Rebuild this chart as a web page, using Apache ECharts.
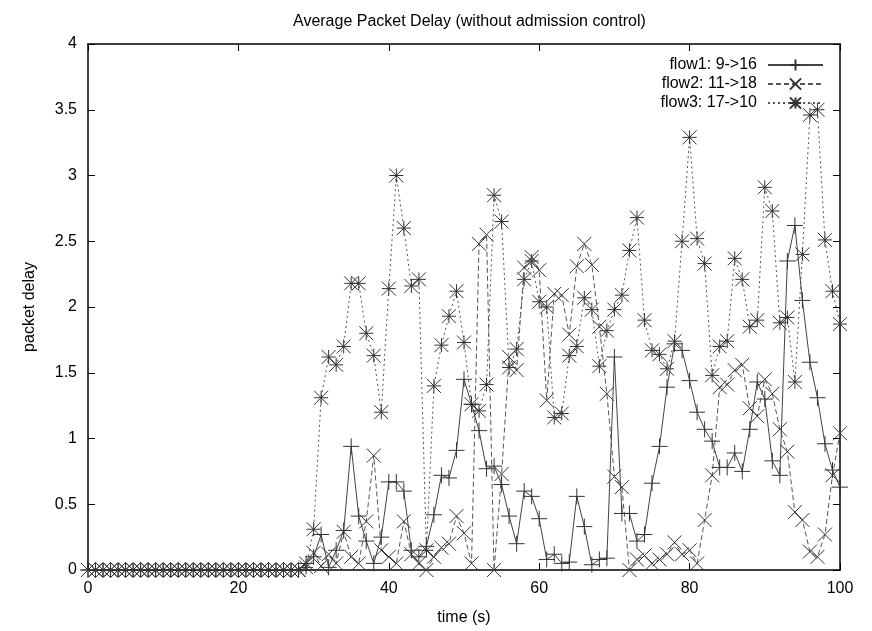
<!DOCTYPE html>
<html>
<head>
<meta charset="utf-8">
<script src="https://cdn.jsdelivr.net/npm/echarts@6/dist/echarts.min.js"></script>
<style>
html,body{margin:0;padding:0;background:#fff;}
#chart{width:872px;height:631px;}
</style>
</head>
<body>
<div id="chart"></div>
<script>
// time in seconds
const times = [0,1,2,3,4,5,6,7,8,9,10,11,12,13,14,15,16,17,18,19,20,21,22,23,24,25,26,27,28,29,30,31,32,33,34,35,36,37,38,39,40,41,42,43,44,45,46,47,48,49,50,51,52,53,54,55,56,57,58,59,60,61,62,63,64,65,66,67,68,69,70,71,72,73,74,75,76,77,78,79,80,81,82,83,84,85,86,87,88,89,90,91,92,93,94,95,96,97,98,99,100];

const flow1 = [0,0,0,0,0,0,0,0,0,0,0,0,0,0,0,0,0,0,0,0,0,0,0,0,0,0,0,0,0,
  0.05,0.10,0.27,0.02,0.15,0.30,0.94,0.41,0.22,0.05,0.25,
  0.67,0.67,0.60,0.15,0.10,0.18,0.42,0.72,0.70,0.91,
  1.45,1.26,1.06,0.77,0.79,0.65,0.41,0.20,0.60,0.56,
  0.39,0.08,0.12,0.05,0.06,0.56,0.33,0.04,0.08,0.09,
  1.62,0.43,0.43,0.22,0.27,0.66,0.94,1.39,1.72,1.67,
  1.44,1.20,1.07,0.98,0.78,0.78,0.89,0.75,1.07,1.43,
  1.30,0.83,0.72,2.35,2.62,2.05,1.58,1.31,0.96,0.76,0.63];

const flow2 = [0,0,0,0,0,0,0,0,0,0,0,0,0,0,0,0,0,0,0,0,0,0,0,0,0,0,0,0,0,
  0.05,0.13,0.03,0.12,0.05,0.29,0.10,0.05,0.37,0.87,0.15,
  0.10,0.05,0.37,0.12,0.05,0.00,0.10,0.17,0.20,0.41,
  0.28,0.05,2.48,2.55,0.00,0.73,1.62,1.52,2.30,2.38,
  2.28,1.29,2.10,2.09,1.79,2.31,2.48,2.32,1.85,1.34,
  0.71,0.63,0.00,0.08,0.11,0.05,0.08,0.12,0.21,0.12,
  0.15,0.05,0.38,0.72,1.39,1.41,1.52,1.56,1.23,1.17,
  1.45,1.34,1.07,0.90,0.44,0.38,0.14,0.10,0.27,0.72,1.04];

const flow3 = [0,0,0,0,0,0,0,0,0,0,0,0,0,0,0,0,0,0,0,0,0,0,0,0,0,0,0,0,0,
  0.02,0.31,1.31,1.62,1.56,1.70,2.18,2.18,1.80,1.63,1.20,
  2.14,3.00,2.60,2.16,2.21,0.15,1.40,1.71,1.93,2.12,
  1.73,1.26,1.21,1.41,2.85,2.65,1.54,1.68,2.21,2.35,
  2.04,2.00,1.16,1.19,1.63,1.70,2.07,1.98,1.55,1.82,
  1.98,2.09,2.43,2.68,1.90,1.67,1.64,1.53,1.74,2.50,
  3.29,2.52,2.33,1.48,1.70,1.74,2.37,2.21,1.85,1.90,
  2.91,2.73,1.88,1.92,1.43,2.40,3.46,3.50,2.51,2.12,1.87];

const seriesNames = ['flow1: 9->16', 'flow2: 11->18', 'flow3: 17->10'];
const xTicks = [0, 20, 40, 60, 80, 100];
const yTickStep = 0.5;

function pairs(vals) { return times.map((t, i) => [t, vals[i]]); }

const FONT = '"Liberation Sans", Arial, sans-serif';
const plus = 'path://M0,5L10,5M5,0L5,10';
const cross = 'path://M0,0L10,10M10,0L0,10';
const star = 'path://M0,5L10,5M5,0L5,10M0,0L10,10M10,0L0,10';

function mk(name, vals, sym, size, lineType, lineColor) {
  return {
    name: name, type: 'line', data: pairs(vals),
    symbol: sym, symbolSize: size, showSymbol: true,
    lineStyle: { color: lineColor, width: 1, type: lineType },
    itemStyle: { color: 'rgba(0,0,0,0)', borderColor: '#333', borderWidth: 1 },
    emphasis: { disabled: true },
    animation: false, z: 3
  };
}

const chart = echarts.init(document.getElementById('chart'), null, { renderer: 'canvas' });
const axisCommon = {
  axisLine: { show: true, onZero: false, lineStyle: { color: '#000', width: 1.5 } },
  axisTick: { show: true, inside: true, length: 7, lineStyle: { color: '#000', width: 1 } },
  splitLine: { show: false }
};
chart.setOption({
  animation: false,
  backgroundColor: '#fff',
  title: {
    text: 'Average Packet Delay (without admission control)',
    left: 288, top: 9,
    textStyle: { fontFamily: FONT, fontSize: 16, fontWeight: 'normal', color: '#000' }
  },
  legend: {
    data: seriesNames,
    orient: 'vertical', align: 'right',
    right: 43, top: 52,
    itemWidth: 55, itemHeight: 14, itemGap: 3,
    textStyle: { fontFamily: FONT, fontSize: 16, color: '#000', padding: [0, 6, 0, 0] }
  },
  grid: { left: 88, right: 32, top: 44, bottom: 57, show: false },
  xAxis: [
    Object.assign({}, axisCommon, {
      type: 'value', min: xTicks[0], max: xTicks[xTicks.length - 1], interval: 20,
      name: 'time (s)', nameLocation: 'middle', nameGap: 40,
      nameTextStyle: { fontFamily: FONT, fontSize: 16, color: '#000' },
      axisLabel: { fontFamily: FONT, fontSize: 16, color: '#000', margin: 11 }
    }),
    Object.assign({}, axisCommon, {
      type: 'value', position: 'top', min: xTicks[0], max: xTicks[xTicks.length - 1], interval: 20,
      axisLabel: { show: false }
    })
  ],
  yAxis: [
    Object.assign({}, axisCommon, {
      type: 'value', min: 0, max: 4, interval: yTickStep,
      name: 'packet delay', nameLocation: 'middle', nameGap: 50, nameRotate: 90,
      nameTextStyle: { fontFamily: FONT, fontSize: 16, color: '#000' },
      axisLabel: { fontFamily: FONT, fontSize: 16, color: '#000', margin: 11 }
    }),
    Object.assign({}, axisCommon, {
      type: 'value', position: 'right', min: 0, max: 4, interval: yTickStep,
      axisLabel: { show: false }
    })
  ],
  series: [
    mk(seriesNames[0], flow1, plus, 16, 'solid', '#444'),
    mk(seriesNames[1], flow2, cross, 14, [5, 3], '#555'),
    mk(seriesNames[2], flow3, star, 14, [2, 3], '#555')
  ]
});
</script>
</body>
</html>
